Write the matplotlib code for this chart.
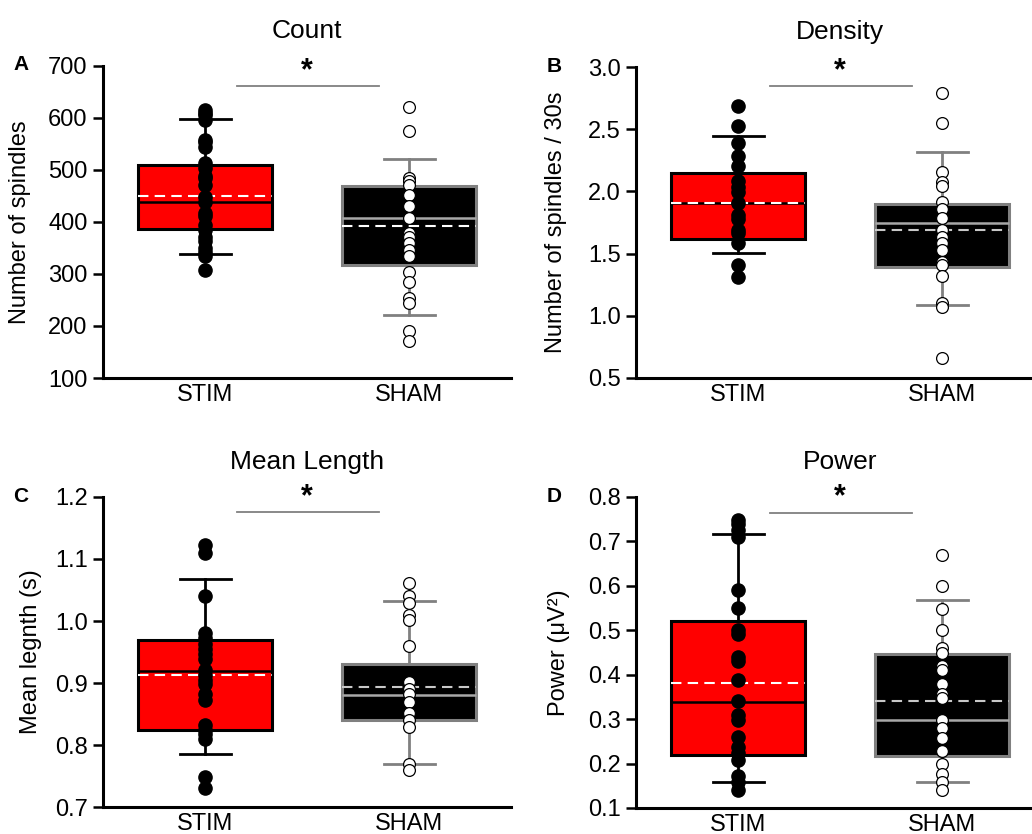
import matplotlib
matplotlib.use("Agg")
import matplotlib.pyplot as plt

plt.rcParams['font.family'] = ['Liberation Sans', 'DejaVu Sans']

groups = ["STIM", "SHAM"]
titles = ["Count", "Density", "Mean Length", "Power"]
letters = ["A", "B", "C", "D"]
ylabels = ["Number of spindles", "Number of spindles / 30s", "Mean legnth (s)", "Power (\u03bcV\u00b2)"]

# individual data points
count_stim = [615, 610, 605, 596, 558, 553, 544, 513, 503, 489, 484, 471, 449, 439, 417, 411, 395, 385, 372, 363, 350, 343, 334, 308]
count_sham = [621, 575, 484, 478, 471, 451, 430, 407, 379, 372, 359, 347, 334, 303, 284, 254, 244, 190, 172]
density_stim = [2.685, 2.524, 2.39, 2.283, 2.203, 2.083, 2.037, 1.997, 1.909, 1.81, 1.775, 1.69, 1.663, 1.583, 1.409, 1.31]
density_sham = [2.794, 2.553, 2.158, 2.072, 2.043, 1.917, 1.856, 1.783, 1.69, 1.636, 1.588, 1.529, 1.436, 1.409, 1.316, 1.102, 1.07, 0.66]
length_stim = [1.123, 1.109, 1.04, 0.981, 0.972, 0.963, 0.955, 0.947, 0.939, 0.921, 0.913, 0.905, 0.899, 0.883, 0.872, 0.833, 0.825, 0.818, 0.809, 0.749, 0.730]
length_sham = [1.061, 1.04, 1.029, 1.009, 1.001, 0.960, 0.902, 0.891, 0.883, 0.869, 0.851, 0.841, 0.829, 0.770, 0.760]
power_stim = [0.749, 0.74, 0.725, 0.711, 0.59, 0.55, 0.50, 0.491, 0.44, 0.43, 0.389, 0.341, 0.309, 0.299, 0.26, 0.237, 0.224, 0.209, 0.171, 0.159, 0.14]
power_sham = [0.669, 0.599, 0.549, 0.50, 0.46, 0.449, 0.419, 0.41, 0.38, 0.357, 0.348, 0.299, 0.279, 0.258, 0.228, 0.20, 0.177, 0.159, 0.14]

# box statistics: whisker low, q1, median, q3, whisker high, mean
count_stim_box = [339, 386, 439, 510, 598, 450]
count_sham_box = [222, 318, 407, 469, 521, 393]
density_stim_box = [1.508, 1.615, 1.904, 2.144, 2.444, 1.905]
density_sham_box = [1.088, 1.396, 1.743, 1.896, 2.313, 1.69]
length_stim_box = [0.785, 0.825, 0.920, 0.970, 1.068, 0.913]
length_sham_box = [0.769, 0.841, 0.880, 0.930, 1.033, 0.894]
power_stim_box = [0.159, 0.219, 0.339, 0.522, 0.717, 0.381]
power_sham_box = [0.159, 0.216, 0.299, 0.447, 0.569, 0.340]

# axis ranges, ticks, significance bar level
ylims = [(100, 700), (0.5, 3.0), (0.7, 1.2), (0.1, 0.8)]
yticks = [[100, 200, 300, 400, 500, 600, 700],
          [0.5, 1.0, 1.5, 2.0, 2.5, 3.0],
          [0.7, 0.8, 0.9, 1.0, 1.1, 1.2],
          [0.1, 0.2, 0.3, 0.4, 0.5, 0.6, 0.7, 0.8]]
ytickfmt = ["{:.0f}", "{:.1f}", "{:.1f}", "{:.1f}"]
sig_y = [661, 2.845, 1.175, 0.765]

points = [(count_stim, count_sham), (density_stim, density_sham),
          (length_stim, length_sham), (power_stim, power_sham)]
boxes = [(count_stim_box, count_sham_box), (density_stim_box, density_sham_box),
         (length_stim_box, length_sham_box), (power_stim_box, power_sham_box)]

W, H = 1032, 834
fig = plt.figure(figsize=(W / 100, H / 100), dpi=100)

# axes rectangles in pixels: left, top, right, bottom
rects = [(103, 66, 511, 378), (636, 67, 1044, 378),
         (103, 497, 511, 807), (636, 497, 1044, 808)]
ylabel_x = [-0.176, -0.169, -0.15, -0.162]

GRAY = "#808080"

for i in range(4):
    l, t, r, b = rects[i]
    ax = fig.add_axes([l / W, 1 - b / H, (r - l) / W, (b - t) / H])
    ax.set_xlim(0.5, 2.5)
    ax.set_ylim(*ylims[i])

    for j in range(2):
        wl, q1, med, q3, wh, mean = boxes[i][j]
        st = dict(whislo=wl, q1=q1, med=med, q3=q3, whishi=wh, mean=mean, fliers=[])
        if j == 0:
            face, edge, medc, meanc = "#FF0000", "black", "black", "white"
        else:
            face, edge, medc, meanc = "black", GRAY, "#A8A8A8", ("white" if i == 0 else "#C8C8C8")
        ax.bxp([st], positions=[j + 1], widths=0.66, patch_artist=True,
               showmeans=True, meanline=True, showfliers=False,
               boxprops=dict(facecolor=face, edgecolor=edge, linewidth=2.2),
               whiskerprops=dict(color=edge, linewidth=2),
               capprops=dict(color=edge, linewidth=2),
               capwidths=0.25,
               medianprops=dict(color=medc, linewidth=1.8),
               meanprops=dict(color=meanc, linewidth=1.5, linestyle=(0, (5, 3))),
               manage_ticks=False, zorder=2)

    ax.plot([1] * len(points[i][0]), points[i][0], 'o', color='black',
            markersize=9.5, markeredgecolor='black', zorder=4, clip_on=False)
    ax.plot([2] * len(points[i][1]), points[i][1], 'o', color='white',
            markersize=8.5, markeredgecolor='black', markeredgewidth=0.9, zorder=4, clip_on=False)

    # significance bar
    ax.plot([1.155, 1.855], [sig_y[i]] * 2, color=GRAY, linewidth=1.3, clip_on=False)
    ax.annotate("*", xy=(1.5, sig_y[i]), xytext=(0, 0), textcoords="offset points",
                ha="center", va="bottom", fontsize=22, fontweight="bold", annotation_clip=False)

    ax.set_xticks([1, 2])
    ax.set_xticklabels(groups)
    ax.set_yticks(yticks[i])
    ax.set_yticklabels([ytickfmt[i].format(v) for v in yticks[i]])
    ax.tick_params(axis='x', length=0, labelsize=17, pad=4)
    ax.tick_params(axis='y', length=7, width=1.8, labelsize=17, pad=4, direction='out')
    for s in ["top", "right"]:
        ax.spines[s].set_visible(False)
    for s in ["left", "bottom"]:
        ax.spines[s].set_linewidth(2.2)
    ax.set_ylabel(ylabels[i], fontsize=17)
    ax.yaxis.set_label_coords(ylabel_x[i], 0.5)
    ax.set_title(titles[i], fontsize=19, pad=20)

    fig.text((l - 82) / W, 1 - (t - 1) / H, letters[i], fontsize=15, fontweight="bold",
             ha="center", va="center")

fig.savefig("out.png", dpi=100)
